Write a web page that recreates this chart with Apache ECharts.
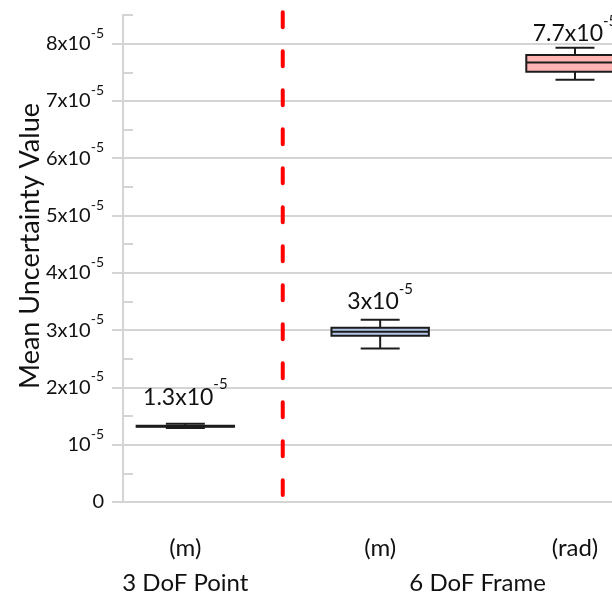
<!DOCTYPE html>
<html>
<head>
<meta charset="utf-8">
<script src="https://cdn.jsdelivr.net/npm/echarts@6/dist/echarts.min.js"></script>
<style>
  html, body { margin: 0; padding: 0; background: #fff; }
  #chart { width: 612px; height: 605px; }
</style>
</head>
<body>
<div id="chart"></div>
<script>
// all values are in units of 1e-5
const positions = [1, 2, 3];
const unitLabels = ['(m)', '(m)', '(rad)'];
const groupNames = ['3 DoF Point', '6 DoF Frame'];
const groupCenters = [1, 2.5];
const minValues = [1.29, 2.68, 7.37];
const q1Values = [1.315, 2.90, 7.51];
const medianValues = [1.32, 2.97, 7.67];
const q3Values = [1.33, 3.04, 7.80];
const maxValues = [1.365, 3.18, 7.93];
const boxLabels = ['1.3', '3', '7.7'];
const boxLabelAt = [1.83, 3.49, 8.18];
const boxFills = ['#262626', '#b4c7e7', '#ffb3b3'];
const yTicks = [0, 1, 2, 3, 4, 5, 6, 7, 8];
const dividerX = 1.5;
const dividerEnds = [8.55, 0.12];

const FONT = 'Lato';
const TEXT = '#111';
const GRID_GRAY = '#d4d4d4';
const BOX_HALF = 0.25;
const CAP_HALF = 0.1;

function sci(mant) {
  return mant === '1' ? `{a|10}{s|-5}` : `{a|${mant}x10}{s|-5}`;
}

function renderBox(params, api) {
  const x = api.value(0);
  const i = params.dataIndex;
  const pMin = api.coord([x, api.value(1)]);
  const pQ1 = api.coord([x - BOX_HALF, api.value(2)]);
  const pMed = api.coord([x, api.value(3)]);
  const pQ3 = api.coord([x + BOX_HALF, api.value(4)]);
  const pMax = api.coord([x, api.value(5)]);
  const pLab = api.coord([x, api.value(6)]);
  const capW = api.coord([x + CAP_HALF, 0])[0] - pMin[0];
  const stroke = {stroke: '#1c1c1c', lineWidth: 2};
  return {
    type: 'group',
    children: [
      {type: 'line', shape: {x1: pMin[0], y1: pMin[1], x2: pMax[0], y2: pMax[1]}, style: stroke},
      {type: 'rect', shape: {x: pQ1[0], y: pQ3[1], width: pQ3[0] - pQ1[0], height: pQ1[1] - pQ3[1]},
        style: Object.assign({fill: boxFills[i]}, stroke)},
      {type: 'line', shape: {x1: pQ1[0], y1: pMed[1], x2: pQ3[0], y2: pMed[1]}, style: stroke},
      {type: 'line', shape: {x1: pMin[0] - capW, y1: pMin[1], x2: pMin[0] + capW, y2: pMin[1]}, style: stroke},
      {type: 'line', shape: {x1: pMax[0] - capW, y1: pMax[1], x2: pMax[0] + capW, y2: pMax[1]}, style: stroke},
      {
        type: 'text',
        style: {
          x: pLab[0], y: pLab[1],
          text: sci(boxLabels[i]),
          align: 'center', verticalAlign: 'middle',
          rich: {
            a: {fontFamily: FONT, fontSize: 23, lineHeight: 40, fill: TEXT},
            s: {fontFamily: FONT, fontSize: 15, verticalAlign: 'top', fill: TEXT},
          },
        },
      },
    ],
  };
}

const chart = echarts.init(document.getElementById('chart'), null, {renderer: 'canvas'});

const xRange = {min: 0.68, max: 3.19};

chart.setOption({
  animation: false,
  backgroundColor: '#fff',
  grid: {left: 123, right: 0, top: 15, bottom: 103, containLabel: false, outerBoundsMode: 'none'},
  xAxis: [
    Object.assign({
      type: 'value', position: 'bottom', offset: 0,
      axisLine: {show: false}, axisTick: {show: false}, splitLine: {show: false},
      axisLabel: {
        customValues: positions, margin: 34,
        formatter: v => unitLabels[positions.indexOf(v)],
        fontFamily: FONT, fontSize: 24, color: TEXT,
      },
    }, xRange),
    Object.assign({
      type: 'value', position: 'bottom', offset: 0,
      axisLine: {show: false}, axisTick: {show: false}, splitLine: {show: false},
      axisLabel: {
        customValues: groupCenters, margin: 69,
        formatter: v => groupNames[groupCenters.indexOf(v)],
        fontFamily: FONT, fontSize: 24, color: TEXT,
      },
    }, xRange),
  ],
  yAxis: [
    {
      type: 'value', position: 'left', offset: 0,
      min: 0, max: 8.5, interval: 1,
      name: 'Mean Uncertainty Value',
      nameLocation: 'middle', nameGap: 79, nameMoveOverlap: false,
      nameTextStyle: {fontFamily: FONT, fontSize: 27, color: TEXT, padding: [0, 0, 0, 25]},
      axisLine: {show: true, lineStyle: {color: GRID_GRAY, width: 2}},
      axisTick: {show: true, inside: false, length: 11, customValues: yTicks, lineStyle: {color: GRID_GRAY, width: 2}},
      splitLine: {show: true, lineStyle: {color: GRID_GRAY, width: 2}},
      axisLabel: {
        margin: 19,
        customValues: yTicks,
        formatter: v => (v === 0 ? '{a|0}' : sci(String(v))),
        rich: {
          a: {fontFamily: FONT, fontSize: 20, lineHeight: 35, color: TEXT},
          s: {fontFamily: FONT, fontSize: 14, verticalAlign: 'top', color: TEXT},
        },
      },
    },
    {
      type: 'value', position: 'left', offset: 0,
      min: 0, max: 8.5, interval: 0.5,
      axisLine: {show: false},
      axisTick: {show: true, inside: true, length: 10, lineStyle: {color: GRID_GRAY, width: 2}},
      splitLine: {show: false},
      axisLabel: {show: false},
    },
  ],
  series: [
    {
      type: 'line',
      xAxisIndex: 0, yAxisIndex: 0,
      data: dividerEnds.map(v => [dividerX, v]),
      symbol: 'none', clip: false, silent: true,
      lineStyle: {color: '#ff0000', width: 4, type: [15, 24], cap: 'round'},
      z: 1,
    },
    {
      type: 'custom',
      xAxisIndex: 0, yAxisIndex: 0,
      renderItem: renderBox,
      encode: {x: 0, y: [1, 2, 3, 4, 5]},
      data: positions.map((p, i) => [p, minValues[i], q1Values[i], medianValues[i], q3Values[i], maxValues[i], boxLabelAt[i]]),
      clip: false,
      z: 3,
    },
  ],
});
</script>
</body>
</html>
